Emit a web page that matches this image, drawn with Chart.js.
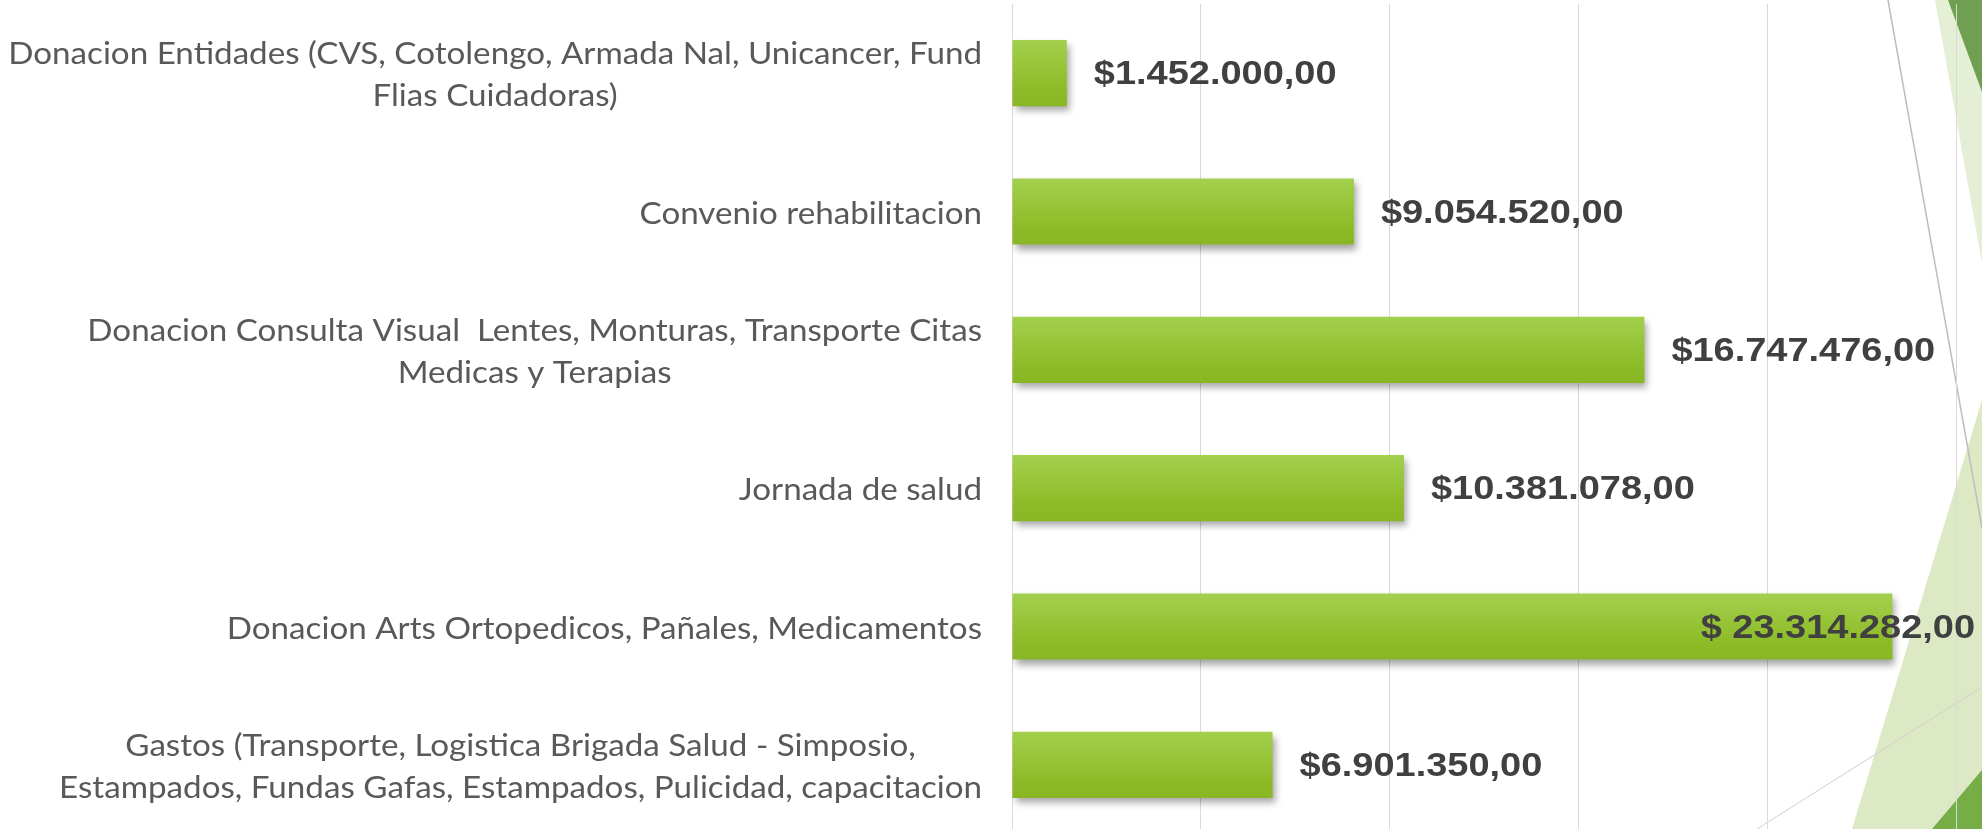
<!DOCTYPE html>
<html>
<head>
<meta charset="utf-8">
<script src="https://cdn.jsdelivr.net/npm/chart.js@4.4.1/dist/chart.umd.min.js"></script>
<style>
  html, body { margin: 0; padding: 0; background: #ffffff; overflow: hidden; }
  #wrap { position: relative; width: 1982px; height: 829px; overflow: hidden; }
  #deco { position: absolute; left: 0; top: 0; }
  #box { position: absolute; left: 0; top: 0; width: 1982px; height: 834px; }
</style>
</head>
<body>
<div id="wrap">
  <!-- slide background (theme shapes on the right edge) -->
  <svg id="deco" width="1982" height="829">
    <polygon points="1935,0 1982,0 1982,263" fill="#e4efd6"/>
    <polygon points="1948,0 1982,0 1982,92" fill="#6fa052"/>
    <polygon points="1852,829 1982,400 1982,829" fill="#dce9c4"/>
    <polygon points="1932,829 1982,770 1982,829" fill="#76ad47"/>
    <line x1="1888" y1="0" x2="1982" y2="528" stroke="#bdbdbd" stroke-width="1.5"/>
    <line x1="1757" y1="829" x2="1982" y2="687" stroke="#d0d0d0" stroke-width="1"/>
  </svg>
  <div id="box"><canvas id="chart"></canvas></div>
</div>
<script>
// ---- Data ----
const categories = [
  ["Donacion Entidades (CVS, Cotolengo, Armada Nal, Unicancer, Fund", "Flias Cuidadoras)"],
  ["Convenio rehabilitacion"],
  ["Donacion Consulta Visual  Lentes, Monturas, Transporte Citas", "Medicas y Terapias"],
  ["Jornada de salud"],
  ["Donacion Arts Ortopedicos, Pañales, Medicamentos"],
  ["Gastos (Transporte, Logistica Brigada Salud - Simposio,", "Estampados, Fundas Gafas, Estampados, Pulicidad, capacitacion"]
];
const values = [1452000, 9054520, 16747476, 10381078, 23314282, 6901350];
const valueLabels = ["$1.452.000,00", "$9.054.520,00", "$16.747.476,00", "$10.381.078,00", "$ 23.314.282,00", "$6.901.350,00"];
const xMax = 25000000;
const xStep = 5000000;

const catFont = "31px Lato";
const catColor = "#595959";
const valFont = "bold 33px 'Liberation Sans'";
const valColor = "#404040";

// ---- Bar fill: vertical gradient per bar ----
function barGradient(context) {
  const chart = context.chart;
  const y = chart.scales.y;
  if (!y || !chart.chartArea || context.dataIndex === undefined) return "#96c43a";
  const c = y.getPixelForValue(context.dataIndex);
  const half = (y.height / categories.length) * 0.478 / 2;
  if (!isFinite(c) || !isFinite(half)) return "#96c43a";
  const g = chart.ctx.createLinearGradient(0, c - half, 0, c + half);
  g.addColorStop(0, "#a3d04d");
  g.addColorStop(0.75, "#8dbb27");
  g.addColorStop(1, "#89b724");
  return g;
}

// ---- Plugins ----
const barShadow = {
  id: "barShadow",
  beforeDatasetsDraw(chart) {
    const ctx = chart.ctx;
    ctx.save();
    ctx.shadowColor = "rgba(0,0,0,0.35)";
    ctx.shadowBlur = 7;
    ctx.shadowOffsetX = 3;
    ctx.shadowOffsetY = 5;
  },
  afterDatasetsDraw(chart) {
    chart.ctx.restore();
  }
};

const valueTags = {
  id: "valueTags",
  afterDatasetsDraw(chart) {
    const ctx = chart.ctx;
    const meta = chart.getDatasetMeta(0);
    ctx.save();
    ctx.font = valFont;
    ctx.fillStyle = valColor;
    ctx.textBaseline = "middle";
    ctx.textAlign = "left";
    const stretch = 1.15;
    meta.data.forEach((bar, i) => {
      const text = valueLabels[i];
      const w = ctx.measureText(text).width * stretch;
      let x = bar.x + 27;
      if (x + w > chart.width - 7) x = chart.width - 7 - w;
      ctx.save();
      ctx.translate(x, bar.y + 2);
      ctx.scale(stretch, 1);
      ctx.fillText(text, 0, 0);
      ctx.restore();
    });
    ctx.restore();
  }
};

const categoryTags = {
  id: "categoryTags",
  afterDraw(chart) {
    const ctx = chart.ctx;
    const y = chart.scales.y;
    const right = chart.chartArea.left - 30;
    const lineH = 42;
    const stretch = 1.07;
    ctx.save();
    ctx.font = catFont;
    ctx.fillStyle = catColor;
    ctx.textBaseline = "middle";
    ctx.textAlign = "center";
    categories.forEach((lines, i) => {
      const w = Math.max(...lines.map(l => ctx.measureText(l).width)) * stretch;
      const cx = right - w / 2;
      const cy = y.getPixelForTick(i) + 2;
      const top = cy - (lines.length - 1) * lineH / 2;
      lines.forEach((l, k) => {
        ctx.save();
        ctx.translate(cx, top + k * lineH);
        ctx.scale(stretch, 1);
        ctx.fillText(l, 0, 0);
        ctx.restore();
      });
    });
    ctx.restore();
  }
};

// ---- Chart ----
new Chart(document.getElementById("chart"), {
  type: "bar",
  data: {
    labels: categories,
    datasets: [{
      data: values,
      backgroundColor: barGradient,
      borderWidth: 0,
      barPercentage: 0.478,
      categoryPercentage: 1
    }]
  },
  options: {
    indexAxis: "y",
    responsive: true,
    maintainAspectRatio: false,
    animation: false,
    layout: { padding: { left: 0, right: 26, top: 4, bottom: 0 } },
    plugins: {
      legend: { display: false },
      tooltip: { enabled: false }
    },
    scales: {
      x: {
        min: 0,
        max: xMax,
        ticks: { display: false, stepSize: xStep },
        grid: { color: "#d9d9d9", lineWidth: 1, drawTicks: false },
        border: { display: false }
      },
      y: {
        ticks: { display: false },
        grid: { display: false, drawTicks: false },
        border: { display: true, color: "#d9d9d9", width: 1 },
        afterFit(scale) { scale.width = 1012; }
      }
    }
  },
  plugins: [barShadow, valueTags, categoryTags]
});
</script>
</body>
</html>
